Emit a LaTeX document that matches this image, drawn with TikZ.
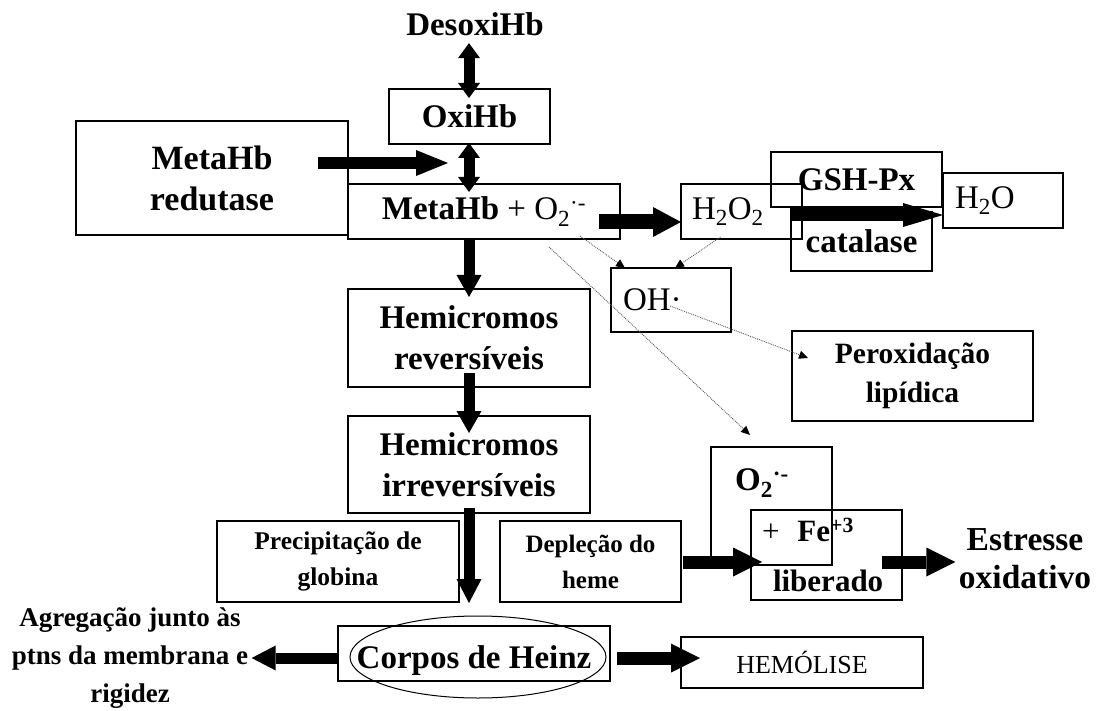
\documentclass[tikz,border=0pt]{standalone}
\usepackage{fontspec}
\setmainfont{Liberation Serif}
\usetikzlibrary{calc,arrows.meta}

\begin{document}
\begin{tikzpicture}[x=1pt,y=-1pt]
     \tikzstyle{box}=[draw,line width=1.1pt,inner sep=0pt,outer sep=0pt]
     \tikzstyle{boldtxt}=[font=\fontsize{33}{41}\selectfont\bfseries,align=center]
     \tikzstyle{plaintxt}=[font=\fontsize{33}{38}\selectfont]
     \tikzstyle{fat}=[line width=13pt,-{Triangle[length=29pt,width=29pt,line width=0pt]}]
     \tikzstyle{fatboth}=[line width=11pt,{Triangle[length=15pt,width=22pt,line width=0pt]}-{Triangle[length=15pt,width=22pt,line width=0pt]}]
     \tikzstyle{dotarrow}=[draw=black!65,line width=0.9pt,densely dotted,-{Triangle[length=9pt,width=8pt,color=black]}]

     \fill[white] (0,0) rectangle (1097,711);
     \useasboundingbox (0,0) rectangle (1097,711);

     % top of the chain
     \node[boldtxt] (desoxi) at (475,24) {DesoxiHb};
     \node[box,boldtxt,minimum width=161pt,minimum height=55pt] (oxi) at (469.5,116.5) {OxiHb};
     \node[box,boldtxt,font=\fontsize{34}{41}\selectfont\bfseries,minimum width=272pt,minimum height=114pt] (redut) at (212,178) {MetaHb\\redutase};
     \node[box,boldtxt,minimum width=272pt,minimum height=55pt] (meta) at (484,211.5)
          {MetaHb{\fontsize{33}{38}\selectfont\mdseries\ + O\textsubscript{2}\textsuperscript{·-}}};
     \coordinate (redtip) at (448,163);

     % peroxide side
     \node[box,plaintxt,minimum width=121pt,minimum height=55pt,inner xsep=11pt,text width=99pt,align=left] (h2o2) at (741.5,211.5) {H\textsubscript{2}O\textsubscript{2}};
     \node[box,boldtxt,minimum width=171pt,minimum height=55pt] (gsh) at (856.5,179.5) {GSH-Px};
     \node[box,boldtxt,minimum width=141pt,minimum height=59pt] (cat) at (861.5,241.5) {catalase};
     \node[box,plaintxt,minimum width=120pt,minimum height=55pt,inner xsep=12pt,text width=96pt,align=left] (h2o) at (1003,200.5) {H\textsubscript{2}O};
     \node[box,plaintxt,minimum width=120pt,minimum height=64pt,inner xsep=12pt,text width=96pt,align=left] (oh) at (671,300) {OH·};
     \node[box,boldtxt,font=\fontsize{29.5}{39}\selectfont\bfseries,minimum width=241pt,minimum height=90pt] (perox) at (912.5,376) {Peroxidação\\lipídica};

     % hemichromes
     \node[box,boldtxt,minimum width=242pt,minimum height=98pt] (hemi1) at (469,338) {Hemicromos\\reversíveis};
     \node[box,boldtxt,minimum width=242pt,minimum height=97pt] (hemi2) at (469,464.5) {Hemicromos\\irreversíveis};
     \node[box,boldtxt,font=\fontsize{25.5}{36}\selectfont\bfseries,minimum width=242pt,minimum height=81pt] (precip) at (338,561.5) {Precipitação de\\globina};
     \node[box,boldtxt,font=\fontsize{25}{36}\selectfont\bfseries,minimum width=181pt,minimum height=81pt] (depl) at (590.5,561.5) {Depleção do\\heme};

     % iron
     \node[box,minimum width=121pt,minimum height=118pt] (o2b) at (771.5,506) {};
     \node[boldtxt] (o2txt) at (762,483) {O\textsubscript{2}\textsuperscript{·-}};
     \node[box,boldtxt,minimum width=151pt,minimum height=90pt,inner xsep=11pt,text width=129pt,align=left,font=\fontsize{31}{50}\selectfont\bfseries] (fe) at (826.5,555)
          {{\mdseries +}\hspace{18pt}Fe\textsuperscript{+3}\\\hspace*{11pt}liberado};
     \node[boldtxt,font=\fontsize{33.5}{38}\selectfont\bfseries] (estr) at (1025,559) {Estresse\\oxidativo};

     % bottom row
     \node[box,boldtxt,minimum width=272pt,minimum height=55pt,text height=37pt,text depth=7pt] (corpos) at (474,653.5) {Corpos de Heinz};
     \draw[line width=1pt] ($(corpos.center)+(4,3.5)$) ellipse [x radius=128, y radius=41];
     \node[boldtxt,font=\fontsize{27}{38}\selectfont\bfseries] (agreg) at (130,658) {Agregação junto às\\ptns da membrana e\\rigidez};
     \node[box,plaintxt,font=\fontsize{26}{36}\selectfont,minimum width=242pt,minimum height=51pt] (hemo) at (802,662.5) {HEMÓLISE};

     % thick arrows
     \draw[fatboth] ($(desoxi.south)+(-6,4)$) -- ($(oxi.north)+(-0.5,9)$);
     \draw[fatboth] ($(oxi.south)+(-0.5,-1)$) -- ($(meta.north -| oxi.south)+(-0.5,8)$);
     \draw[fat,line width=12pt,-{Triangle[length=32pt,width=26pt,line width=0pt]}] ($(redut.east)+(-30,-15)$) -- (redtip);
     \draw[fat,line width=15pt,-{Triangle[length=28pt,width=30pt,line width=0pt]}] ($(meta.east)+(-21,10.5)$) -- ($(h2o2.west)+(0,10.5)$);
     \draw[fat,-{Triangle[length=40pt,width=24pt,line width=0pt]}] ($(h2o2.east)+(-12,3.5)$) -- ($(h2o.west)+(0,14.5)$);
     \draw[fat,line width=11pt,-{Triangle[length=22pt,width=25pt,line width=0pt]}] (meta.south -| hemi1.north) -- ($(hemi1.north)+(0,8)$);
     \draw[fat,line width=11pt,-{Triangle[length=22pt,width=25pt,line width=0pt]}] ($(hemi1.south)+(0,-14)$) -- ($(hemi2.north)+(0,17)$);
     \draw[fat,line width=11pt,-{Triangle[length=24pt,width=25pt,line width=0pt]}] ($(hemi2.south)+(0,-5)$) -- ($(corpos.north)+(-5,-23)$);
     \draw[fat] ($(depl.east)+(2,0.5)$) -- ($(fe.west)+(11,7)$);
     \draw[fat] ($(fe.east)+(-20,7)$) -- ($(estr.west)+(0,3)$);
     \draw[fat,line width=11pt,-{Triangle[length=24pt,width=25pt,line width=0pt]}] ($(corpos.west)+(0,4.5)$) -- (agreg.east);
     \draw[fat] ($(corpos.east)+(7,4.5)$) -- ($(hemo.west)+(19,-4.5)$);

     % radicals
     \draw[dotarrow] ($(meta.south east)+(-40,-3)$) -- ($(oh.north)+(-46,0)$);
     \draw[dotarrow] ($(h2o2.south)+(-21,-2)$) -- ($(oh.north)+(4,0)$);
     \draw[dotarrow] ($(meta.south east)+(-71,8)$) -- ($(o2b.north west)+(39,-12)$);
     \draw[dotarrow] ($(oh.center)+(-1,6)$) -- ($(perox.west)+(16,-18)$);
\end{tikzpicture}
\end{document}
